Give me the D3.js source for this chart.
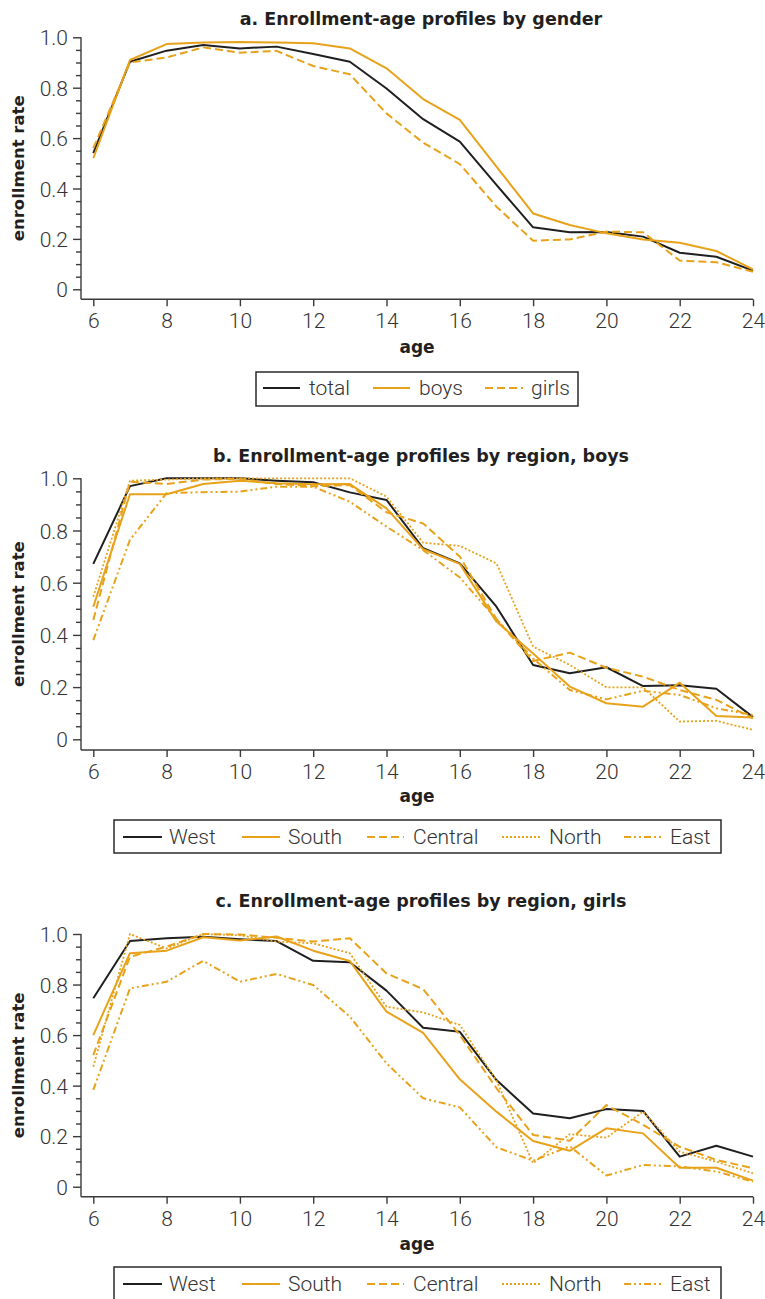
<!DOCTYPE html>
<html>
<head>
<meta charset="utf-8">
<script src="https://cdn.jsdelivr.net/npm/d3@7"></script>
<style>
  body { margin: 0; background: #fff; }
  .title, .axis-title { font-family: "DejaVu Sans", sans-serif; font-weight: bold; fill: #231f20; }
  .tick text, .legend-text { font-family: Roboto, "Liberation Sans", sans-serif; font-weight: 300; font-size: 21px; fill: #333; }
  .tick line, .axis-line { stroke: #3a3a3a; stroke-width: 1.4; }
</style>
</head>
<body>
<svg id="chart" width="765" height="1299"></svg>
<script>
const ages = [6, 7, 8, 9, 10, 11, 12, 13, 14, 15, 16, 17, 18, 19, 20, 21, 22, 23, 24];
const xTicks = [6, 8, 10, 12, 14, 16, 18, 20, 22, 24];
const yTicks = [0, 0.2, 0.4, 0.6, 0.8, 1.0];
const yMinorTicks = [0.05, 0.1, 0.15, 0.25, 0.3, 0.35, 0.45, 0.5, 0.55, 0.65, 0.7, 0.75, 0.85, 0.9, 0.95];

// a. by gender
const genderTotal = [0.54, 0.903, 0.947, 0.969, 0.956, 0.963, 0.934, 0.903, 0.797, 0.675, 0.586, 0.414, 0.246, 0.226, 0.227, 0.209, 0.145, 0.129, 0.074];
const genderBoys  = [0.52, 0.91, 0.973, 0.979, 0.981, 0.979, 0.976, 0.956, 0.877, 0.755, 0.672, 0.487, 0.301, 0.255, 0.222, 0.198, 0.185, 0.152, 0.079];
const genderGirls = [0.56, 0.90, 0.92, 0.96, 0.939, 0.946, 0.886, 0.853, 0.698, 0.582, 0.497, 0.328, 0.193, 0.198, 0.229, 0.226, 0.114, 0.107, 0.070];

// b. by region, boys
const boysWest    = [0.672, 0.970, 1.0, 1.0, 1.0, 0.991, 0.985, 0.946, 0.917, 0.732, 0.674, 0.508, 0.285, 0.253, 0.276, 0.204, 0.207, 0.194, 0.085];
const boysSouth   = [0.508, 0.939, 0.939, 0.978, 0.991, 0.981, 0.977, 0.978, 0.885, 0.728, 0.672, 0.451, 0.329, 0.202, 0.138, 0.125, 0.217, 0.089, 0.084];
const boysCentral = [0.457, 0.987, 0.978, 0.995, 0.998, 0.978, 0.970, 0.974, 0.870, 0.827, 0.700, 0.460, 0.300, 0.332, 0.274, 0.240, 0.189, 0.151, 0.080];
const boysNorth   = [0.546, 0.991, 0.995, 1.0, 1.0, 1.0, 1.0, 1.0, 0.930, 0.753, 0.741, 0.674, 0.355, 0.285, 0.199, 0.199, 0.068, 0.071, 0.036];
const boysEast    = [0.380, 0.764, 0.943, 0.947, 0.949, 0.968, 0.968, 0.910, 0.815, 0.725, 0.620, 0.460, 0.310, 0.189, 0.153, 0.186, 0.170, 0.119, 0.093];

// c. by region, girls
const girlsWest    = [0.746, 0.972, 0.983, 0.989, 0.979, 0.972, 0.894, 0.888, 0.776, 0.629, 0.613, 0.422, 0.290, 0.271, 0.307, 0.300, 0.119, 0.162, 0.119];
const girlsSouth   = [0.600, 0.924, 0.934, 0.987, 0.974, 0.990, 0.934, 0.893, 0.693, 0.609, 0.425, 0.297, 0.181, 0.142, 0.231, 0.211, 0.075, 0.075, 0.024];
const girlsCentral = [0.521, 0.910, 0.950, 1.0, 0.998, 0.985, 0.970, 0.983, 0.844, 0.782, 0.600, 0.390, 0.205, 0.182, 0.323, 0.245, 0.158, 0.106, 0.073];
const girlsNorth   = [0.475, 1.0, 0.943, 1.0, 0.995, 0.970, 0.963, 0.924, 0.712, 0.690, 0.640, 0.420, 0.093, 0.208, 0.194, 0.297, 0.139, 0.099, 0.053];
const girlsEast    = [0.383, 0.785, 0.811, 0.894, 0.811, 0.842, 0.798, 0.673, 0.488, 0.350, 0.314, 0.156, 0.103, 0.160, 0.044, 0.086, 0.080, 0.060, 0.020];

const black = "#1f1f1f";
const gold = "#e8a21a";

const styles = {
  total:   { color: black, dash: null, width: 2 },
  boys:    { color: gold, dash: null, width: 2 },
  girls:   { color: gold, dash: "8,4", width: 2 },
  West:    { color: black, dash: null, width: 2 },
  South:   { color: gold, dash: null, width: 2 },
  Central: { color: gold, dash: "8,4", width: 2 },
  North:   { color: gold, dash: "2,2", width: 1.8 },
  East:    { color: gold, dash: "7,3,2,3,2,3", width: 2 }
};

const panels = [
  {
    title: "a. Enrollment-age profiles by gender",
    titleY: 25, top: 37.3, zero: 289.3, axisY: 299.3, ageY: 353,
    series: [["total", genderTotal], ["boys", genderBoys], ["girls", genderGirls]],
    legend: { x: 256, y: 372, w: 322, h: 34, textY: 395,
      items: [[263, 300, 309], [373, 410, 419], [485, 523, 531]] }
  },
  {
    title: "b. Enrollment-age profiles by region, boys",
    titleY: 462, top: 478.3, zero: 739.3, axisY: 750, ageY: 802,
    series: [["West", boysWest], ["South", boysSouth], ["Central", boysCentral], ["North", boysNorth], ["East", boysEast]],
    legend: { x: 114, y: 820, w: 607, h: 33, textY: 844,
      items: [[123, 162, 169], [242, 280, 288], [367, 404, 413], [502, 541, 549], [624, 662, 670]] }
  },
  {
    title: "c. Enrollment-age profiles by region, girls",
    titleY: 907, top: 934, zero: 1186.7, axisY: 1196.7, ageY: 1250,
    series: [["West", girlsWest], ["South", girlsSouth], ["Central", girlsCentral], ["North", girlsNorth], ["East", girlsEast]],
    legend: { x: 114, y: 1267, w: 607, h: 34, textY: 1291,
      items: [[123, 162, 169], [242, 280, 288], [367, 404, 413], [502, 541, 549], [624, 662, 670]] }
  }
];

const svg = d3.select("#chart");
const axisX0 = 81;
const x = d3.scaleLinear().domain([6, 24]).range([93.3, 753]);

panels.forEach(p => {
  const g = svg.append("g");
  const y = d3.scaleLinear().domain([0, 1]).range([p.zero, p.top]);

  g.append("text").attr("class", "title")
    .attr("x", 421).attr("y", p.titleY)
    .attr("text-anchor", "middle").style("font-size", "17.5px")
    .text(p.title);

  // y axis
  const yAxis = g.append("g").attr("transform", `translate(${axisX0},0)`)
    .call(d3.axisLeft(y).tickValues(yTicks).tickSize(8).tickPadding(5)
      .tickFormat(d => d === 0 ? "0" : d3.format(".1f")(d)));
  yAxis.select(".domain").remove();
  yAxis.selectAll(".tick text").attr("dy", "0.36em");
  const yMinor = g.append("g").attr("transform", `translate(${axisX0},0)`)
    .call(d3.axisLeft(y).tickValues(yMinorTicks).tickSize(5).tickFormat(""));
  yMinor.select(".domain").remove();

  // x axis
  const xAxis = g.append("g").attr("transform", `translate(0,${p.axisY})`)
    .call(d3.axisBottom(x).tickValues(xTicks).tickSize(7).tickPadding(7));
  xAxis.select(".domain").remove();

  g.append("line").attr("class", "axis-line")
    .attr("x1", axisX0).attr("x2", axisX0).attr("y1", p.top).attr("y2", p.axisY);
  g.append("line").attr("class", "axis-line")
    .attr("x1", axisX0).attr("x2", x(24)).attr("y1", p.axisY).attr("y2", p.axisY);

  g.append("text").attr("class", "axis-title")
    .attr("transform", `translate(24,${(p.top + p.axisY) / 2}) rotate(-90)`)
    .attr("text-anchor", "middle").style("font-size", "16.5px")
    .text("enrollment rate");
  g.append("text").attr("class", "axis-title")
    .attr("x", 417).attr("y", p.ageY)
    .attr("text-anchor", "middle").style("font-size", "17px")
    .text("age");

  const line = d3.line().x((d, i) => x(ages[i])).y(d => y(d));
  p.series.forEach(([name, values]) => {
    const s = styles[name];
    g.append("path").datum(values)
      .attr("d", line)
      .attr("fill", "none")
      .attr("stroke", s.color)
      .attr("stroke-width", s.width)
      .attr("stroke-dasharray", s.dash)
      .attr("stroke-linejoin", "round");
  });

  // legend
  const L = p.legend;
  const lg = g.append("g");
  lg.append("rect").attr("x", L.x).attr("y", L.y).attr("width", L.w).attr("height", L.h)
    .attr("fill", "none").attr("stroke", "#2a2a2a").attr("stroke-width", 1.5);
  p.series.forEach(([name], i) => {
    const s = styles[name];
    const [x1, x2, tx] = L.items[i];
    lg.append("line").attr("x1", x1).attr("x2", x2)
      .attr("y1", L.textY - 7).attr("y2", L.textY - 7)
      .attr("stroke", s.color).attr("stroke-width", s.width)
      .attr("stroke-dasharray", s.dash);
    lg.append("text").attr("class", "legend-text")
      .attr("x", tx).attr("y", L.textY).text(name);
  });
});
</script>
</body>
</html>
